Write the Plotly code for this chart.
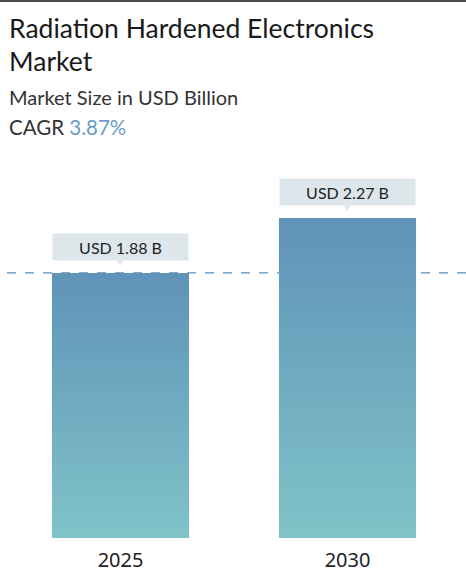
import plotly.graph_objects as go

# dados do gráfico
anos = ['2025', '2030']
valores = [1.88, 2.27]
rotulos = ['USD 1.88 B', 'USD 2.27 B']
titulo = ['Radiation Hardened Electronics', 'Market']
subtitulo = 'Market Size in USD Billion'
cagr = '3.87%'

W, H = 466, 582
margem = dict(l=7, r=5, t=170, b=44)
altura_plot = H - margem['t'] - margem['b']
cor_balao = '#dde7eb'


def y_paper(px_topo):
    """Converte posição em pixels (a partir do topo) para coordenada paper"""
    return 1 + (margem['t'] - px_topo) / altura_plot


fig = go.Figure()

# barras com gradiente vertical (uma trace por barra)
meia_largura = 0.302
for i, v in enumerate(valores):
    fig.add_trace(go.Scatter(
        x=[i - meia_largura, i - meia_largura, i + meia_largura, i + meia_largura, i - meia_largura],
        y=[0, v, v, 0, 0],
        mode='lines',
        fill='toself',
        line=dict(width=0),
        fillgradient=dict(
            type='vertical',
            start=0,
            stop=v,
            colorscale=[[0, '#80c3c8'], [1, '#5f93b8']],
        ),
        hoverinfo='skip',
        showlegend=False,
    ))

anotacoes = []
for i, (v, r) in enumerate(zip(valores, rotulos)):
    # balão com o valor
    anotacoes.append(dict(
        x=i, y=v, xref='x', yref='y',
        text=r, showarrow=False,
        xanchor='center', yanchor='bottom', yshift=12,
        width=133, height=24,
        bgcolor=cor_balao,
        font=dict(family='Lato, Noto Sans, sans-serif', size=16, color='#222222'),
    ))
    # pontinha do balão
    anotacoes.append(dict(
        x=i, y=v, xref='x', yref='y',
        text='▼', showarrow=False,
        xanchor='center', yanchor='middle', yshift=10,
        font=dict(family='DejaVu Sans, sans-serif', size=8, color=cor_balao),
    ))

# título (duas linhas) e subtítulos
for k, linha in enumerate(titulo):
    anotacoes.append(dict(
        x=0, y=y_paper(10 + 33 * k), xref='paper', yref='paper',
        text=linha, showarrow=False, align='left',
        xanchor='left', yanchor='top', xshift=0,
        font=dict(family='Lato, sans-serif', size=26.5, color='#1a1a1a'),
    ))
anotacoes.append(dict(
    x=0, y=y_paper(83), xref='paper', yref='paper',
    text=subtitulo, showarrow=False, align='left',
    xanchor='left', yanchor='top', xshift=0,
    font=dict(family='Lato, sans-serif', size=20, color='#333333'),
))
anotacoes.append(dict(
    x=0, y=y_paper(113), xref='paper', yref='paper',
    text=f"CAGR <span style='color:#6a9cc6'>{cagr}</span>", showarrow=False, align='left',
    xanchor='left', yanchor='top', xshift=0,
    font=dict(family='Lato, sans-serif', size=20.5, color='#333333'),
))

fig.update_layout(
    width=W,
    height=H,
    margin=margem,
    plot_bgcolor='white',
    paper_bgcolor='white',
    annotations=anotacoes,
    shapes=[
        dict(type='line', xref='paper', yref='y', x0=0, x1=1.02,
             y0=valores[0], y1=valores[0],
             line=dict(color='#5b8db8', width=1.3, dash='dash'), layer='below'),
        dict(type='line', xref='paper', yref='paper', x0=-0.05, x1=1.05,
             y0=y_paper(1), y1=y_paper(1),
             line=dict(color='#111111', width=1.5)),
    ],
    xaxis=dict(
        range=[-0.5, len(anos) - 0.5],
        tickvals=list(range(len(anos))),
        ticktext=anos,
        showgrid=False, zeroline=False, showline=False,
        ticks='', ticklen=0,
        ticklabelstandoff=8,
        tickfont=dict(family='Noto Sans, sans-serif', size=20, color='#222222'),
        fixedrange=True,
    ),
    yaxis=dict(
        range=[0, 2.61],
        visible=False,
        showgrid=False, zeroline=False,
        fixedrange=True,
    ),
    showlegend=False,
)

fig.write_html(
    'out.html',
    config={'displayModeBar': False},
    post_script="document.body.style.margin='0px';",
)
